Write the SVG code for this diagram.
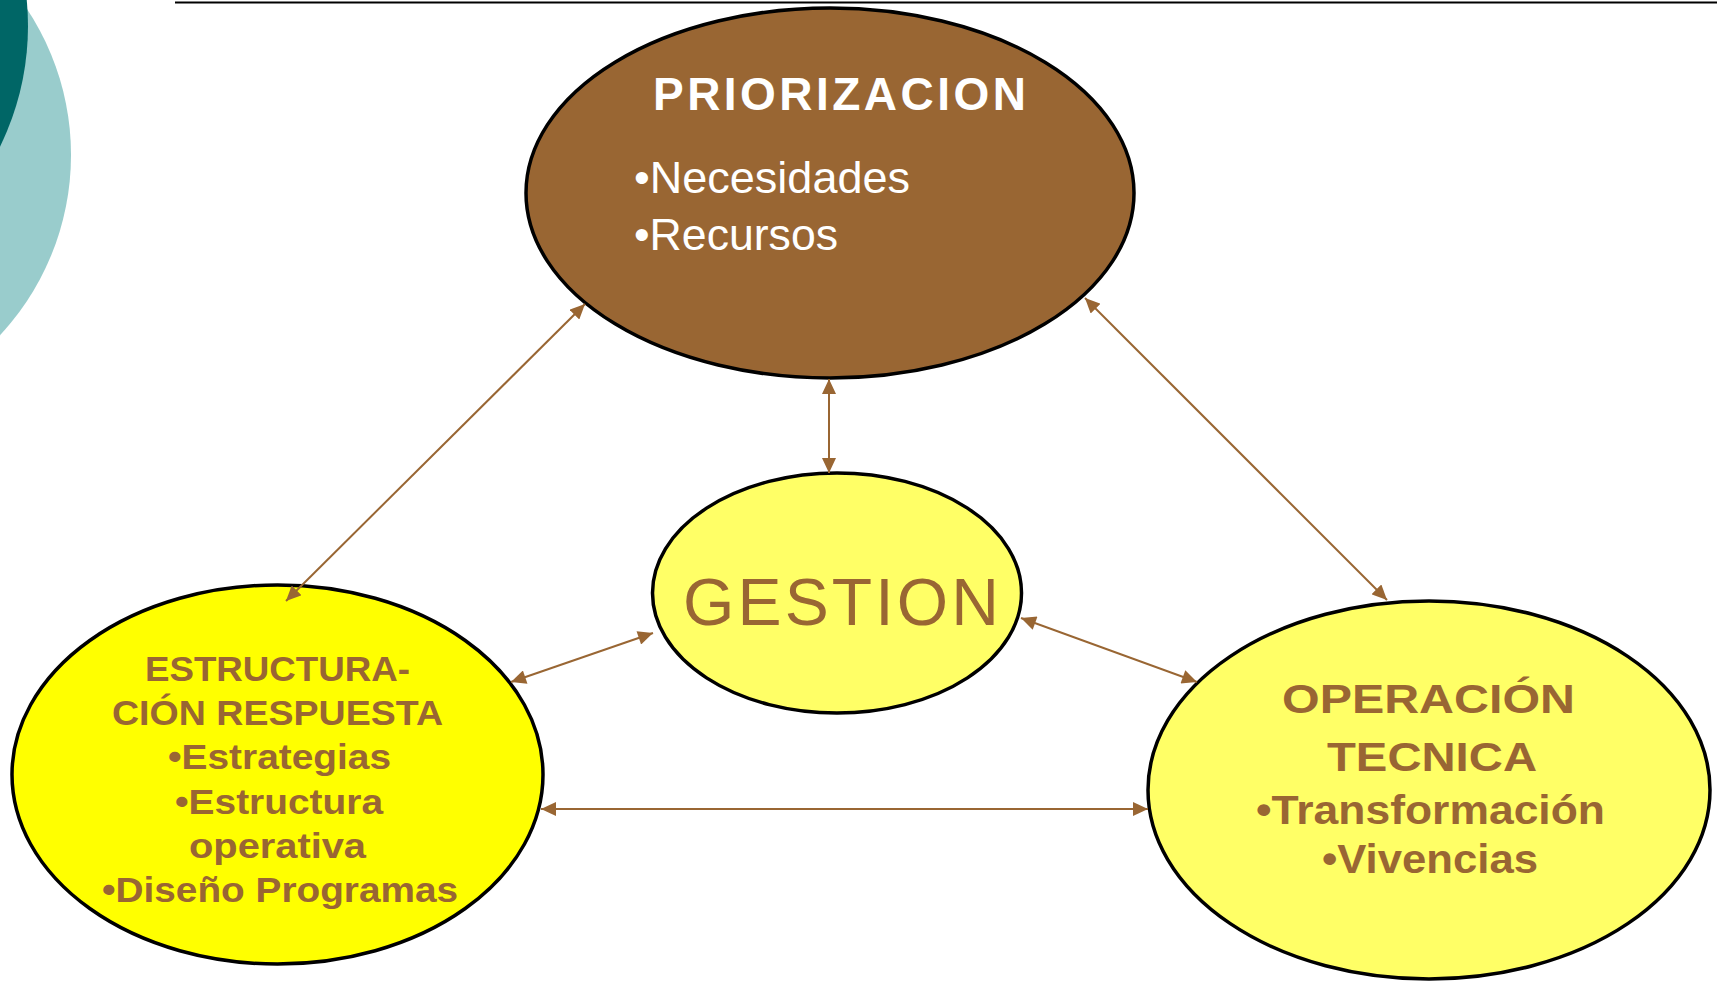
<svg xmlns="http://www.w3.org/2000/svg" width="1717" height="981" viewBox="0 0 1717 981">
<defs>
<style>
.node{stroke:#000;stroke-width:3.5}
.conn{stroke:#996633;stroke-width:2;fill:none;marker-start:url(#ah);marker-end:url(#ah)}
.t{font-family:"Liberation Sans",Arial,sans-serif;fill:#996633;font-weight:bold}
.g{font-family:"Liberation Sans",Arial,sans-serif;fill:#996633;font-weight:normal}
.w{font-family:"Liberation Sans",Arial,sans-serif;fill:#fff}
</style>
<marker id="ah" markerUnits="userSpaceOnUse" markerWidth="16" markerHeight="14" refX="15" refY="7" orient="auto-start-reverse" viewBox="0 0 15 14">
<path d="M0,0 L15,7 L0,14 z" fill="#996633"/>
</marker>
</defs>
<rect width="1717" height="981" fill="#fff"/>
<g id="decor">
<circle cx="-193" cy="155" r="264" fill="#99CCCC"/>
<circle cx="-246" cy="26" r="274" fill="#006666"/>
<line x1="175" y1="2.5" x2="1717" y2="2.5" stroke="#000" stroke-width="2"/>
</g>
<g id="priorizacion">
<ellipse class="node" cx="830" cy="193" rx="304" ry="185" fill="#996633"/>
<text class="w" x="839.5" y="110" font-size="46" font-weight="bold" text-anchor="middle" textLength="373" lengthAdjust="spacing">PRIORIZACION</text>
<text class="w" x="634" y="193" font-size="45" textLength="276" lengthAdjust="spacingAndGlyphs">•Necesidades</text>
<text class="w" x="634" y="250" font-size="45" textLength="204" lengthAdjust="spacingAndGlyphs">•Recursos</text>
</g>
<g id="gestion">
<ellipse class="node" cx="837" cy="593" rx="184.5" ry="120" fill="#FFFF66"/>
<text class="g" x="841" y="625" font-size="66" text-anchor="middle" textLength="316" lengthAdjust="spacing">GESTION</text>
</g>
<g id="estructuracion">
<ellipse class="node" cx="277.5" cy="774.5" rx="265.5" ry="189.5" fill="#FFFF00"/>
<text class="t" font-size="35" x="277.5" y="681" text-anchor="middle" textLength="265" lengthAdjust="spacingAndGlyphs">ESTRUCTURA-</text>
<text class="t" font-size="35" x="277.5" y="725" text-anchor="middle" textLength="331" lengthAdjust="spacingAndGlyphs">CIÓN RESPUESTA</text>
<text class="t" font-size="35" x="279.5" y="769" text-anchor="middle" textLength="223" lengthAdjust="spacingAndGlyphs">•Estrategias</text>
<text class="t" font-size="35" x="279" y="814" text-anchor="middle" textLength="208" lengthAdjust="spacingAndGlyphs">•Estructura</text>
<text class="t" font-size="35" x="277.5" y="858" text-anchor="middle" textLength="177" lengthAdjust="spacingAndGlyphs">operativa</text>
<text class="t" font-size="35" x="280" y="902" text-anchor="middle" textLength="356" lengthAdjust="spacingAndGlyphs">•Diseño Programas</text>
</g>
<g id="operacion">
<ellipse class="node" cx="1429" cy="790" rx="281" ry="189" fill="#FFFF66"/>
<text class="t" font-size="41" x="1428.5" y="713" text-anchor="middle" textLength="293" lengthAdjust="spacingAndGlyphs">OPERACIÓN</text>
<text class="t" font-size="41" x="1432" y="771" text-anchor="middle" textLength="210" lengthAdjust="spacingAndGlyphs">TECNICA</text>
<text class="t" font-size="41" x="1430.5" y="824" text-anchor="middle" textLength="349" lengthAdjust="spacingAndGlyphs">•Transformación</text>
<text class="t" font-size="41" x="1430" y="873" text-anchor="middle" textLength="216" lengthAdjust="spacingAndGlyphs">•Vivencias</text>
</g>
<g id="connectors">
<line class="conn" x1="829" y1="379" x2="829" y2="473"/>
<line class="conn" x1="653" y1="633" x2="511" y2="682"/>
<line class="conn" x1="1021" y1="618" x2="1197" y2="682"/>
<line class="conn" x1="585" y1="304" x2="286" y2="601"/>
<line class="conn" x1="1085" y1="298" x2="1387" y2="600"/>
<line class="conn" x1="541" y1="809" x2="1148" y2="809"/>
</g>
</svg>
